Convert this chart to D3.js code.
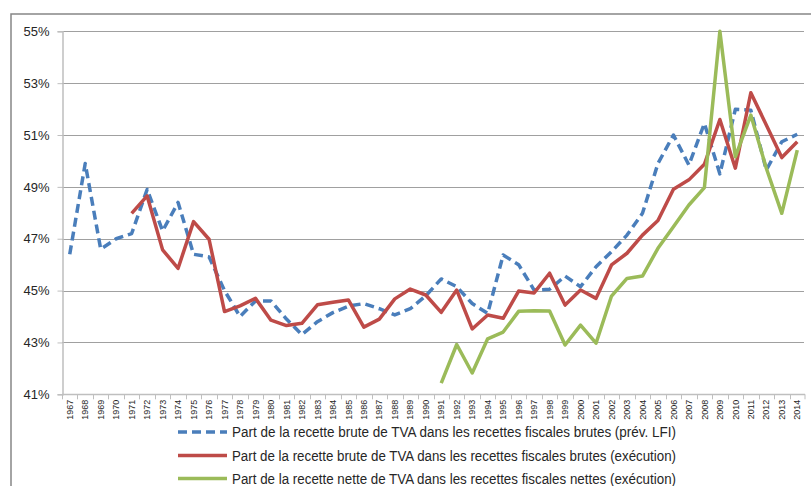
<!DOCTYPE html>
<html>
<head>
<meta charset="utf-8">
<script src="https://cdn.jsdelivr.net/npm/d3@7"></script>
<style>
  body { margin: 0; background: #fff; }
  svg { display: block; font-family: "Liberation Sans", Arial, sans-serif; }
</style>
</head>
<body>
<div id="chart"></div>
<script>
const width = 811, height = 486;

const years = d3.range(1967, 2015);

// Part de la recette brute de TVA dans les recettes fiscales brutes (prév. LFI)
const lfiValues = [
  46.4, 49.9, 46.6, 47.0, 47.2, 48.9, 47.3, 48.4, 46.4, 46.3,
  45.0, 44.0, 44.6, 44.6, 43.9, 43.3, 43.8, 44.15, 44.4, 44.5,
  44.3, 44.06, 44.3, 44.8, 45.45, 45.15, 44.5, 44.12, 46.37, 46.0,
  45.02, 45.05, 45.56, 45.15, 45.92, 46.5, 47.14, 47.98, 49.9, 51.0,
  49.84, 51.45, 49.5, 51.99, 51.96, 49.65, 50.74, 51.03
];

// Part de la recette brute de TVA dans les recettes fiscales brutes (exécution)
const brutExecValues = [
  null, null, null, null, 47.98, 48.65, 46.57, 45.86, 47.66, 46.98,
  44.19, 44.41, 44.7, 43.86, 43.65, 43.74, 44.45, 44.55, 44.64, 43.59,
  43.9, 44.68, 45.06, 44.83, 44.16, 45.02, 43.52, 44.06, 43.93, 44.98,
  44.91, 45.67, 44.44, 45.02, 44.7, 45.99, 46.44, 47.14, 47.7, 48.91,
  49.27, 49.87, 51.6, 49.72, 52.63, 51.39, 50.13, 50.74
];

// Part de la recette nette de TVA dans les recettes fiscales nettes (exécution)
const netExecValues = [
  null, null, null, null, null, null, null, null, null, null,
  null, null, null, null, null, null, null, null, null, null,
  null, null, null, null, 41.43, 42.92, 41.82, 43.14, 43.4, 44.2,
  44.22, 44.21, 42.9, 43.67, 42.97, 44.79, 45.47, 45.56, 46.63, 47.46,
  48.3, 48.97, 55.0, 50.16, 51.77, 49.72, 47.98, 50.42
];

const yTicks = [41, 43, 45, 47, 49, 51, 53, 55];

const seriesNames = [
  "Part de la recette brute de TVA dans les recettes fiscales brutes (prév. LFI)",
  "Part de la recette brute de TVA dans les recettes fiscales brutes (exécution)",
  "Part de la recette nette de TVA dans les recettes fiscales nettes (exécution)"
];
const seriesColors = ["#4a7ebb", "#be4b48", "#9bbb59"];
const seriesDash = ["9,5", null, null];

const plot = { left: 62, right: 805, top: 31.3, bottom: 394.3 };

let svg = d3.select('#chart')
  .append('svg')
  .attr('width', width)
  .attr('height', height);

// chart frame
svg.append('rect')
  .attr('x', 11)
  .attr('y', 14)
  .attr('width', width + 20)
  .attr('height', height + 20)
  .attr('fill', '#fff')
  .attr('stroke', '#868686')
  .attr('stroke-width', 1.5);

let x = d3.scaleBand()
  .domain(years)
  .range([plot.left, plot.right]);

let y = d3.scaleLinear()
  .domain([41, 55])
  .range([plot.bottom, plot.top]);

// gridlines
svg.append('g')
  .selectAll('line')
  .data(yTicks.slice(1))
  .enter()
  .append('line')
  .attr('x1', plot.left)
  .attr('x2', plot.right - 1)
  .attr('y1', d => Math.round(y(d)) + 0.5)
  .attr('y2', d => Math.round(y(d)) + 0.5)
  .attr('stroke', '#a0a0a0')
  .attr('stroke-width', 1);

// y axis
let yAxis = svg.append('g')
  .attr('transform', `translate(${plot.left + 0.5}, 0)`)
  .call(d3.axisLeft(y).tickValues(yTicks).tickSize(5).tickPadding(8).tickFormat(d => d + '%'));
yAxis.select('.domain').attr('stroke', '#bfbfbf').attr('stroke-width', 1.5);
yAxis.selectAll('.tick line').attr('stroke', '#bfbfbf');
yAxis.selectAll('.tick text')
  .style('font-size', '13px')
  .attr('fill', '#262626');

// x axis line and ticks
let xAxis = svg.append('g');
xAxis.append('line')
  .attr('x1', plot.left)
  .attr('x2', plot.right)
  .attr('y1', Math.round(plot.bottom) + 0.5)
  .attr('y2', Math.round(plot.bottom) + 0.5)
  .attr('stroke', '#bfbfbf')
  .attr('stroke-width', 1.5);

xAxis.selectAll('line.tick')
  .data(years.concat([null]))
  .enter()
  .append('line')
  .attr('class', 'tick')
  .attr('x1', d => d === null ? plot.right : Math.round(x(d)) + 0.5)
  .attr('x2', d => d === null ? plot.right : Math.round(x(d)) + 0.5)
  .attr('y1', plot.bottom)
  .attr('y2', plot.bottom + 5)
  .attr('stroke', '#bfbfbf');

xAxis.selectAll('text')
  .data(years)
  .enter()
  .append('text')
  .attr('transform', d => `translate(${x(d) + x.bandwidth() / 2}, ${plot.bottom + 5.5}) rotate(-90)`)
  .attr('dy', '0.35em')
  .style('text-anchor', 'end')
  .style('font-size', '9px')
  .attr('fill', '#262626')
  .text(d => d);

// series lines
const allSeries = [lfiValues, brutExecValues, netExecValues];

let line = d3.line()
  .defined(d => d.value !== null)
  .x(d => x(d.year) + x.bandwidth() / 2)
  .y(d => y(d.value));

allSeries.forEach((values, i) => {
  let pts = years.map((yr, j) => ({ year: yr, value: values[j] }));
  svg.append('path')
    .datum(pts)
    .attr('fill', 'none')
    .attr('stroke', seriesColors[i])
    .attr('stroke-width', 3.5)
    .attr('stroke-dasharray', seriesDash[i])
    .attr('stroke-linejoin', 'round')
    .attr('d', line);
});

// legend
let legend = svg.append('g');
const legendY = [432, 455.5, 478.5];

seriesNames.forEach((name, i) => {
  legend.append('line')
    .attr('x1', 178)
    .attr('x2', 227)
    .attr('y1', legendY[i])
    .attr('y2', legendY[i])
    .attr('stroke', seriesColors[i])
    .attr('stroke-width', 3.5)
    .attr('stroke-dasharray', seriesDash[i]);

  legend.append('text')
    .attr('x', 232)
    .attr('y', legendY[i] + 5)
    .style('font-size', '14px')
    .attr('fill', '#262626')
    .attr('textLength', 444)
    .attr('lengthAdjust', 'spacingAndGlyphs')
    .text(name);
});
</script>
</body>
</html>
